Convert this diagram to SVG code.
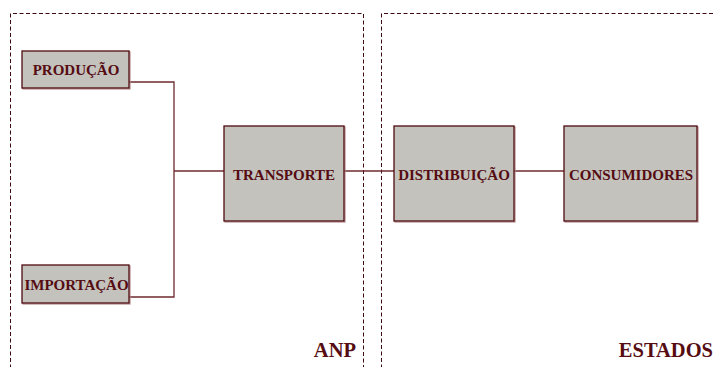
<svg xmlns="http://www.w3.org/2000/svg" width="714" height="367" viewBox="0 0 714 367">
<style>
.box{fill:#c3c2bd;stroke:#4f0a0f;stroke-width:1.3}
.shadow{fill:none;stroke:#b58c8c;stroke-width:1.2}
.lbl{font-family:"Liberation Serif","Times New Roman",serif;font-weight:bold;font-size:15px;fill:#550c12;text-anchor:middle}
.big{font-family:"Liberation Serif","Times New Roman",serif;font-weight:bold;font-size:20.5px;fill:#550c12;text-anchor:end}
.conn{fill:none;stroke:#6e2a2e;stroke-width:1.3}
.zone{fill:none;stroke:#3d0a0e;stroke-width:1;stroke-dasharray:4 2.5}
</style>
<g id="zones">
<path class="zone" d="M10.5 375 V13.5 H363.5 V375"/>
<path class="zone" d="M381.5 375 V13.5 H720"/>
<text class="big" x="356" y="357">ANP</text>
<text class="big" x="713" y="357">ESTADOS</text>
</g>
<g id="connectors">
<path class="conn" d="M129 82 H174 V297 H129"/>
<path class="conn" d="M174 171 H224"/>
<path class="conn" d="M344 171 H394"/>
<path class="conn" d="M514 171 H564"/>
</g>
<g id="producao">
<rect class="shadow" x="23" y="52" width="107" height="37"/>
<rect class="box" x="22" y="51" width="107" height="37"/>
<text class="lbl" x="76" y="75">PRODUÇÃO</text>
</g>
<g id="importacao">
<rect class="shadow" x="23" y="266" width="107" height="38"/>
<rect class="box" x="22" y="265" width="107" height="38"/>
<text class="lbl" x="76.5" y="290">IMPORTAÇÃO</text>
</g>
<g id="transporte">
<rect class="shadow" x="225" y="127" width="120" height="95"/>
<rect class="box" x="224" y="126" width="120" height="95"/>
<text class="lbl" x="284" y="180">TRANSPORTE</text>
</g>
<g id="distribuicao">
<rect class="shadow" x="395" y="127" width="120" height="95"/>
<rect class="box" x="394" y="126" width="120" height="95"/>
<text class="lbl" x="454" y="180">DISTRIBUIÇÃO</text>
</g>
<g id="consumidores">
<rect class="shadow" x="565" y="127" width="133" height="95"/>
<rect class="box" x="564" y="126" width="133" height="95"/>
<text class="lbl" x="631" y="180">CONSUMIDORES</text>
</g>
</svg>
